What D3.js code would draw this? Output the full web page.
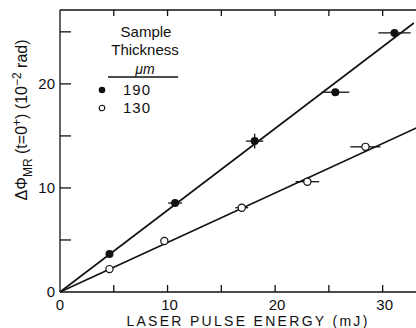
<!DOCTYPE html>
<html>
<head>
<meta charset="utf-8">
<script src="https://cdn.jsdelivr.net/npm/d3@7"></script>
<style>
  body { margin: 0; background: #fff; }
  svg { display: block; font-family: "Liberation Sans", Arial, sans-serif; }
</style>
</head>
<body>
<div id="chart"></div>
<script>
// Measured points, sample thickness 190 um (filled)
const energy190 = [4.6, 10.7, 18.1, 25.6, 31.1];
const phase190 = [3.65, 8.55, 14.5, 19.2, 24.9];
const errX190 = [0, 0.65, 0.8, 1.3, 1.5];
const errY190 = [0, 0, 0.7, 0, 0];

// Measured points, sample thickness 130 um (open)
const energy130 = [4.6, 9.7, 16.9, 23.0, 28.4];
const phase130 = [2.2, 4.9, 8.1, 10.6, 13.95];
const errX130 = [0, 0, 0.6, 1.1, 1.4];

// Straight-line fits through the origin: [start, end] in data units
const fit190 = [[0, 0], [32.9, 25.85]];
const fit130 = [[0, 0], [33.2, 15.8]];

const xMajor = [0, 10, 20, 30];
const xMinor = [5, 15, 25];
const yMajor = [0, 10, 20];
const yMinor = [5, 15, 25];

const legendItems = [
  { label: '190', filled: true },
  { label: '130', filled: false }
];

const width = 416, height = 328;
const margin = { top: 10, right: 0, bottom: 36, left: 60 };

const svg = d3.select('#chart').append('svg')
  .attr('width', width)
  .attr('height', height);

const x = d3.scaleLinear()
  .domain([0, 33.1])
  .range([margin.left, width - margin.right]);

const y = d3.scaleLinear()
  .domain([0, 27.1])
  .range([height - margin.bottom, margin.top]);

const ink = '#111';

// Frame: left, bottom and top (the right side is cut off)
const frame = svg.append('g')
  .attr('stroke', ink)
  .attr('stroke-width', 1.3);
frame.append('line')
  .attr('x1', x(0)).attr('x2', x(0))
  .attr('y1', y.range()[1]).attr('y2', y(0));
frame.append('line')
  .attr('x1', x(0)).attr('x2', x.range()[1])
  .attr('y1', y(0)).attr('y2', y(0));
frame.append('line')
  .attr('x1', x(0)).attr('x2', x.range()[1])
  .attr('y1', y.range()[1]).attr('y2', y.range()[1]);

// Inward ticks
const xTicks = xMajor.concat(xMinor).filter(d => d > 0);
const yTicks = yMajor.concat(yMinor).filter(d => d > 0);

frame.selectAll('.xtb')
  .data(xTicks)
  .enter()
  .append('line')
  .attr('x1', d => x(d)).attr('x2', d => x(d))
  .attr('y1', y(0)).attr('y2', y(0) - 7);

frame.selectAll('.xtt')
  .data(xTicks)
  .enter()
  .append('line')
  .attr('x1', d => x(d)).attr('x2', d => x(d))
  .attr('y1', y.range()[1]).attr('y2', y.range()[1] + 6);

frame.selectAll('.yt')
  .data(yTicks)
  .enter()
  .append('line')
  .attr('x1', x(0)).attr('x2', x(0) + 11)
  .attr('y1', d => y(d)).attr('y2', d => y(d));

// Tick labels
svg.selectAll('.xl')
  .data(xMajor)
  .enter()
  .append('text')
  .attr('x', d => x(d) + (d === 0 ? 0 : 2))
  .attr('y', y(0) + 18)
  .attr('text-anchor', 'middle')
  .style('font-size', '15px')
  .attr('fill', ink)
  .text(d => d);

svg.selectAll('.yl')
  .data(yMajor)
  .enter()
  .append('text')
  .attr('x', x(0) - 5)
  .attr('y', d => y(d) + 5)
  .attr('text-anchor', 'end')
  .style('font-size', '15px')
  .attr('fill', ink)
  .text(d => d);

// Axis titles
svg.append('text')
  .attr('x', 248)
  .attr('y', 326)
  .attr('text-anchor', 'middle')
  .style('font-size', '14px')
  .style('letter-spacing', '2.3px')
  .attr('fill', ink)
  .text('LASER PULSE ENERGY (mJ)');

const yTitle = svg.append('text')
  .attr('transform', 'translate(27, 120) rotate(-90)')
  .attr('text-anchor', 'middle')
  .style('font-size', '16px')
  .attr('fill', ink);
yTitle.append('tspan').text('ΔΦ');
yTitle.append('tspan').attr('dy', 5).style('font-size', '12px').text('MR');
yTitle.append('tspan').attr('dy', -5).text(' (t=0');
yTitle.append('tspan').attr('dy', -6).style('font-size', '12px').text('+');
yTitle.append('tspan').attr('dy', 6).text(') (10');
yTitle.append('tspan').attr('dy', -6).style('font-size', '12px').text('−2');
yTitle.append('tspan').attr('dy', 6).text(' rad)');

// Fit lines
const line = d3.line()
  .x(d => x(d[0]))
  .y(d => y(d[1]));

[fit190, fit130].forEach(fit => {
  svg.append('path')
    .datum(fit)
    .attr('fill', 'none')
    .attr('stroke', ink)
    .attr('stroke-width', 1.6)
    .attr('d', line);
});

// Error bars
const pts190 = energy190.map((e, i) => ({ e, p: phase190[i], dx: errX190[i], dy: errY190[i] }));
const pts130 = energy130.map((e, i) => ({ e, p: phase130[i], dx: errX130[i], dy: 0 }));
const allPts = pts190.concat(pts130);

svg.selectAll('.ex')
  .data(allPts.filter(d => d.dx > 0))
  .enter()
  .append('line')
  .attr('x1', d => x(d.e - d.dx)).attr('x2', d => x(d.e + d.dx))
  .attr('y1', d => y(d.p)).attr('y2', d => y(d.p))
  .attr('stroke', ink)
  .attr('stroke-width', 1.3);

svg.selectAll('.ey')
  .data(allPts.filter(d => d.dy > 0))
  .enter()
  .append('line')
  .attr('x1', d => x(d.e)).attr('x2', d => x(d.e))
  .attr('y1', d => y(d.p - d.dy)).attr('y2', d => y(d.p + d.dy))
  .attr('stroke', ink)
  .attr('stroke-width', 1.3);

// Markers
svg.selectAll('.m190')
  .data(pts190)
  .enter()
  .append('circle')
  .attr('cx', d => x(d.e))
  .attr('cy', d => y(d.p))
  .attr('r', 4)
  .attr('fill', ink);

svg.selectAll('.m130')
  .data(pts130)
  .enter()
  .append('circle')
  .attr('cx', d => x(d.e))
  .attr('cy', d => y(d.p))
  .attr('r', 3.6)
  .attr('fill', '#fff')
  .attr('stroke', ink)
  .attr('stroke-width', 1.2);

// Legend
const legend = svg.append('g').attr('fill', ink);
legend.append('text')
  .attr('x', 146).attr('y', 37)
  .attr('text-anchor', 'middle')
  .style('font-size', '15px')
  .text('Sample');
legend.append('text')
  .attr('x', 145).attr('y', 55)
  .attr('text-anchor', 'middle')
  .style('font-size', '15px')
  .text('Thickness');
legend.append('text')
  .attr('x', 145).attr('y', 74)
  .attr('text-anchor', 'middle')
  .style('font-size', '14px')
  .style('font-style', 'italic')
  .text('μm');
legend.append('line')
  .attr('x1', 108).attr('x2', 178)
  .attr('y1', 77).attr('y2', 77)
  .attr('stroke', ink)
  .attr('stroke-width', 1.3);

const rows = legend.selectAll('.row')
  .data(legendItems)
  .enter()
  .append('g')
  .attr('transform', (d, i) => `translate(0, ${90 + i * 18})`);
rows.append('circle')
  .attr('cx', 102).attr('cy', 0)
  .attr('r', d => d.filled ? 3.3 : 2.8)
  .attr('fill', d => d.filled ? ink : '#fff')
  .attr('stroke', ink)
  .attr('stroke-width', d => d.filled ? 0 : 1.1);
rows.append('text')
  .attr('x', 123).attr('y', 5)
  .style('font-size', '15px')
  .style('letter-spacing', '1px')
  .text(d => d.label);
</script>
</body>
</html>
